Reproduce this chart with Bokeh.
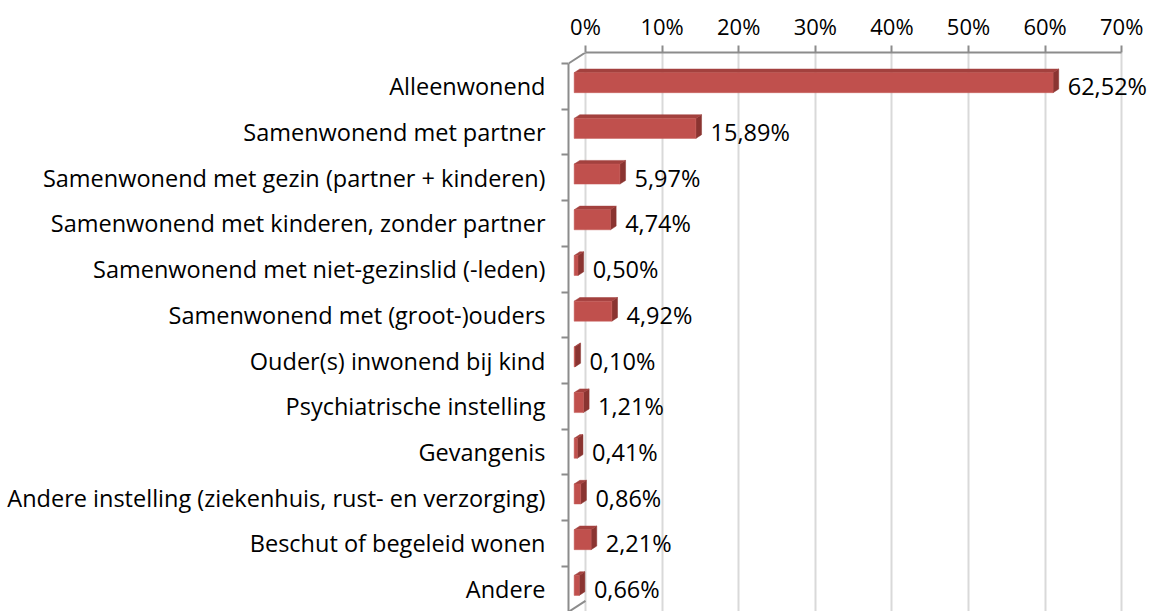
from bokeh.plotting import figure
from bokeh.models import Range1d, FixedTicker, PrintfTickFormatter
from bokeh.core.properties import value
from bokeh.embed import file_html
from bokeh.resources import INLINE

categories = [
    "Alleenwonend",
    "Samenwonend met partner",
    "Samenwonend met gezin (partner + kinderen)",
    "Samenwonend met kinderen, zonder partner",
    "Samenwonend met niet-gezinslid (-leden)",
    "Samenwonend met (groot-)ouders",
    "Ouder(s) inwonend bij kind",
    "Psychiatrische instelling",
    "Gevangenis",
    "Andere instelling (ziekenhuis, rust- en verzorging)",
    "Beschut of begeleid wonen",
    "Andere",
]
percentages = [62.52, 15.89, 5.97, 4.74, 0.50, 4.92, 0.10, 1.21, 0.41, 0.86, 2.21, 0.66]
x_ticks = [0, 10, 20, 30, 40, 50, 60, 70]

FONT = "Open Sans"
FSIZE = "23.5px"

# geometry (data units)
W, H = 1154, 611
LEFT, TOP = 568, 52
FRAME_W, FRAME_H = W - LEFT, H - TOP
PX_PER_PCT = 7.66
PX_PER_CAT = 45.7
DEPTH_X = 17 / PX_PER_PCT      # depth of the 3D box in % units
DEPTH_Y = 11 / PX_PER_CAT      # depth in category units
X_END = -DEPTH_X + FRAME_W / PX_PER_PCT
Y_TOP = -0.5 - DEPTH_Y
Y_BOT = Y_TOP + FRAME_H / PX_PER_CAT
BAR_H = 20 / PX_PER_CAT

p = figure(
    width=W, height=H,
    x_range=Range1d(-DEPTH_X, X_END),
    y_range=Range1d(Y_BOT, Y_TOP),
    output_backend="svg", toolbar_location=None,
    x_axis_location="above",
    min_border_left=LEFT, min_border_top=TOP, min_border_right=0, min_border_bottom=0,
)
p.outline_line_color = None
p.background_fill_color = "white"

# top axis
xa = p.xaxis[0]
xa.ticker = FixedTicker(ticks=x_ticks)
xa.formatter = PrintfTickFormatter(format="%d%%")
xa.bounds = (0, 70)
xa.axis_line_color = "#8c8c8c"
xa.axis_line_width = 2
xa.major_tick_line_color = "#8c8c8c"
xa.major_tick_line_width = 2
xa.major_tick_out = 7
xa.major_tick_in = 0
xa.minor_tick_line_color = None
xa.major_label_standoff = 5
xa.major_label_text_font = FONT
xa.major_label_text_font_size = "22px"
xa.major_label_text_color = "black"

# left axis (front plane)
ya = p.yaxis[0]
ya.ticker = FixedTicker(ticks=list(range(len(categories))),
                        minor_ticks=[i - 0.5 for i in range(len(categories) + 1)])
ya.major_label_overrides = {i: c for i, c in enumerate(categories)}
ya.bounds = (-0.5, len(categories) - 0.5)
ya.axis_line_color = "#8c8c8c"
ya.axis_line_width = 2
ya.major_tick_line_color = None
ya.major_tick_out = 0
ya.major_tick_in = 0
ya.minor_tick_line_color = "#8c8c8c"
ya.minor_tick_line_width = 2
ya.minor_tick_out = 7
ya.minor_tick_in = 0
ya.major_label_standoff = 16
ya.major_label_text_font = FONT
ya.major_label_text_font_size = FSIZE
ya.major_label_text_color = "black"

p.xgrid.ticker = FixedTicker(ticks=x_ticks)
p.xgrid.grid_line_color = "#d9d9d9"
p.xgrid.grid_line_width = 2
p.ygrid.grid_line_color = None

# wall edges (diagonals from front plane to back plane)
p.segment(x0=[-DEPTH_X, -DEPTH_X], y0=[-0.5, len(categories) - 0.5],
          x1=[0, 0], y1=[-0.5 - DEPTH_Y, len(categories) - 0.5 - DEPTH_Y],
          line_color="#8c8c8c", line_width=2)

# 3D bars
fx = -DEPTH_X * 2 / 3   # front face x offset
fy = -DEPTH_Y / 3       # front face y offset
bx = DEPTH_X / 3        # extra offset to back face
by = -DEPTH_Y / 3

front_xs, front_ys, top_xs, top_ys, side_xs, side_ys = [], [], [], [], [], []
for i, v in enumerate(percentages):
    x0 = 0 + fx
    x1 = v + fx
    yc = i + fy
    yt = yc - BAR_H / 2
    yb = yc + BAR_H / 2
    front_xs.append([x0, x1, x1, x0])
    front_ys.append([yt, yt, yb, yb])
    top_xs.append([x0, x1, x1 + bx, x0 + bx])
    top_ys.append([yt, yt, yt + by, yt + by])
    side_xs.append([x1, x1 + bx, x1 + bx, x1])
    side_ys.append([yt, yt + by, yb + by, yb])

p.patches(side_xs, side_ys, fill_color="#8a3431", line_color="#8a3431", line_width=0.5)
p.patches(top_xs, top_ys, fill_color="#a3413e", line_color="#a3413e", line_width=0.5)
p.patches(front_xs, front_ys, fill_color="#c0504d", line_color="#c45a57", line_width=0.5)

labels = [f"{v:.2f}%".replace(".", ",") for v in percentages]
p.text(x=[v - DEPTH_X / 3 for v in percentages], y=list(range(len(categories))),
       text=labels, text_font=value(FONT), text_font_size=FSIZE,
       text_align="left", text_baseline="middle", x_offset=9, text_color="black")

open("out.html", "w").write(file_html(p, INLINE))
